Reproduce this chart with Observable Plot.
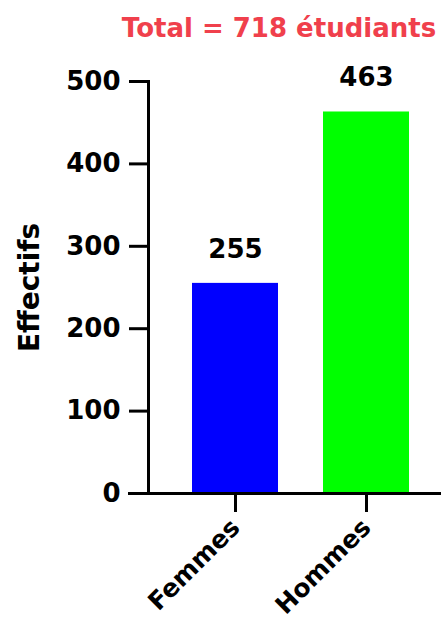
<!DOCTYPE html>
<html>
<head>
<meta charset="utf-8">
<script src="https://cdn.jsdelivr.net/npm/d3@7"></script>
<script src="https://cdn.jsdelivr.net/npm/@observablehq/plot@0.6"></script>
<style>
  html, body { margin: 0; padding: 0; background: #fff; overflow: hidden; }
  #chart svg { display: block; }
</style>
</head>
<body>
<div id="chart"></div>
<script>
const categories = ["Femmes", "Hommes"];
const values = [255, 463];
const colors = ["#0000ff", "#00ff00"];
const yTicks = [0, 100, 200, 300, 400, 500];
const title = "Total = 718 étudiants";
const yLabel = "Effectifs";

const data = categories.map((c, i) => ({category: c, value: values[i], color: colors[i]}));

const font = "DejaVu Sans, sans-serif";

const chart = Plot.plot({
  width: 441,
  height: 623,
  marginLeft: 148,
  marginRight: 0,
  marginTop: 81,
  marginBottom: 130,
  style: {fontFamily: font, fontWeight: "bold", fontSize: "26px", color: "#000", background: "#fff", overflow: "visible"},
  x: {domain: categories, paddingInner: 0.346, paddingOuter: 0.287, align: 0.57, label: null},
  y: {domain: [0, 500], label: null},
  marks: [
    Plot.barY(data, {x: "category", y: "value", fill: "color"}),
    Plot.text(data, {x: "category", y: "value", text: d => String(d.value), dy: -34, fontSize: 26, fontWeight: "bold", fill: "#000"}),
    Plot.axisY({ticks: yTicks, tickSize: 19, tickPadding: 9, strokeWidth: 3, fontSize: 26, label: null}),
    Plot.axisX({tickSize: 19, strokeWidth: 3, tickRotate: -45, tickPadding: 11, fontSize: 25, label: null}),
    Plot.frame({anchor: "left", strokeWidth: 3, stroke: "#000"}),
    Plot.ruleY([0], {strokeWidth: 3, stroke: "#000", insetLeft: -20}),
    Plot.text([yLabel], {frameAnchor: "left", textAnchor: "middle", rotate: -90, dx: -118, fontSize: 28, fontWeight: "bold", fill: "#000"}),
    Plot.text([title], {frameAnchor: "top", dx: -16, dy: -63, fontSize: 26, fontWeight: "bold", fill: "#f0404c"})
  ]
});

document.getElementById("chart").appendChild(chart);
</script>
</body>
</html>
